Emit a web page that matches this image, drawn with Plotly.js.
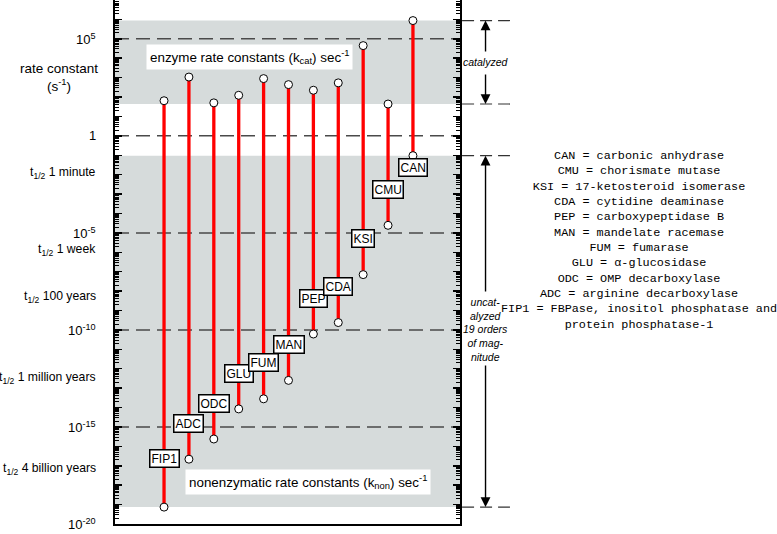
<!DOCTYPE html>
<html>
<head>
<meta charset="utf-8">
<script src="https://cdn.plot.ly/plotly-3.0.1.min.js"></script>
<style>
  body { margin: 0; background: #fff; }
  #plot { width: 777px; height: 534px; }
</style>
</head>
<body>
<div id="plot"></div>
<script>
// enzymes, left to right
const enzymes = ['FIP1', 'ADC', 'ODC', 'GLU', 'FUM', 'MAN', 'PEP', 'CDA', 'KSI', 'CMU', 'CAN'];
// log10 of rate constants (sec-1)
const kcatExp = [1.81, 3.03, 1.70, 2.09, 2.95, 2.64, 2.35, 2.73, 4.65, 1.64, 5.94];
const knonExp = [-19.13, -16.66, -15.62, -14.07, -13.55, -12.6, -10.21, -9.62, -7.15, -4.61, -1.02];

// left axis labels
const decadeExp = [5, 0, -5, -10, -15, -20];
const decadeText = ['10<sup>5</sup>', '1', '10<sup>-5</sup>', '10<sup>-10</sup>', '10<sup>-15</sup>', '10<sup>-20</sup>'];
const halfLifeText = ['1 minute', '1 week', '100 years', '1 million years', '4 billion years'];
const halfLifeExp = [-1.91, -5.88, -8.3, -12.47, -17.16];

const legendLines = [
    'CAN = carbonic anhydrase',
    'CMU = chorismate mutase',
    'KSI = 17-ketosteroid isomerase',
    'CDA = cytidine deaminase',
    'PEP = carboxypeptidase B',
    'MAN = mandelate racemase',
    'FUM = fumarase',
    'GLU = \u03b1-glucosidase',
    'ODC = OMP decarboxylase',
    'ADC = arginine decarboxylase',
    'FIP1 = FBPase, inositol phosphatase and',
    'protein phosphatase-1'
];

const sans = 'Liberation Sans, Arial, Helvetica, sans-serif';
const idx = enzymes.map((e, i) => i);
const p10 = v => Math.pow(10, v);

// stems
let stemX = [], stemY = [];
idx.forEach(i => {
    stemX.push(i, i, null);
    stemY.push(p10(knonExp[i]), p10(kcatExp[i]), null);
});

const stems = {
    x: stemX, y: stemY,
    mode: 'lines', type: 'scatter',
    line: { color: '#ff0000', width: 3.3 },
    hoverinfo: 'skip', showlegend: false
};
const ends = {
    x: idx.concat(idx),
    y: kcatExp.concat(knonExp).map(p10),
    mode: 'markers', type: 'scatter',
    marker: { color: '#ffffff', size: 8, line: { color: '#000', width: 1 } },
    hoverinfo: 'skip', showlegend: false
};

const catTop = Math.max(...kcatExp), catBot = Math.min(...kcatExp);
const nonTop = Math.max(...knonExp), nonBot = Math.min(...knonExp);

// shapes on a log axis take data values
const shapes = [];
// grey bands
[[catBot, catTop], [nonBot, nonTop]].forEach(b => {
    shapes.push({ type: 'rect', xref: 'paper', yref: 'y', x0: 0, x1: 1, y0: p10(b[0]), y1: p10(b[1]),
        fillcolor: '#d6dbdb', line: { width: 0 }, layer: 'below' });
});
// dashed decade lines
[5, 0, -5, -10, -15].forEach(d => {
    shapes.push({ type: 'line', xref: 'paper', yref: 'y', x0: 0, x1: 1, y0: p10(d), y1: p10(d),
        line: { color: '#4a4a4a', width: 1.5, dash: '14px,7px' }, layer: 'below' });
});
// dashes to the right of the frame
[catTop, catBot, nonTop, nonBot].forEach(d => {
    shapes.push({ type: 'line', xref: 'paper', yref: 'y', x0: 1.006, x1: 1.145, y0: p10(d), y1: p10(d),
        line: { color: '#333', width: 1.2, dash: '12px,6px' } });
});

const annotations = [];
// enzyme name boxes
enzymes.forEach((name, i) => {
    const shift = name === 'CAN' ? -0.6 : (name === 'FIP1' ? 2.5 : 1.85);
    annotations.push({
        x: i, y: knonExp[i] + shift, xref: 'x', yref: 'y', xanchor: 'center', text: name, showarrow: false,
        font: { family: sans, size: 12, color: '#000' },
        bgcolor: '#fff', bordercolor: '#000', borderwidth: 1.5, borderpad: 1
    });
});
// decade labels
decadeExp.forEach((d, i) => {
    annotations.push({ x: -0.05, y: d, xref: 'paper', yref: 'y', xanchor: 'right', text: decadeText[i],
        showarrow: false, font: { family: sans, size: 13, color: '#000' } });
});
halfLifeText.forEach((t, i) => {
    annotations.push({ x: -0.05, y: halfLifeExp[i], xref: 'paper', yref: 'y', xanchor: 'right',
        text: 't<sub>1/2</sub> ' + t, showarrow: false, font: { family: sans, size: 12.2, color: '#000' } });
});
annotations.push({ x: -0.162, y: 3.0, xref: 'paper', yref: 'y', xanchor: 'center',
    text: 'rate constant<br>(s<sup>-1</sup>)',
    showarrow: false, font: { family: sans, size: 13.5, color: '#000' } });

// band captions
annotations.push({ x: 3.45, y: 4.04, xref: 'x', yref: 'y', xanchor: 'center',
    text: 'enzyme rate constants (k<sub>cat</sub>) sec<sup>-1</sup>', showarrow: false,
    font: { family: sans, size: 13.4, color: '#000' }, bgcolor: '#fff', borderpad: 3 });
annotations.push({ x: 5.8, y: -17.86, xref: 'x', yref: 'y', xanchor: 'center',
    text: 'nonenzymatic rate constants (k<sub>non</sub>) sec<sup>-1</sup>', showarrow: false,
    font: { family: sans, size: 13.4, color: '#000' }, bgcolor: '#fff', borderpad: 3 });

// right side arrows
const ax = 1.074;
const arrow = (head, tail) => ({
    x: ax, y: head, xref: 'paper', yref: 'y', ax: 0, ay: tail, axref: 'pixel', ayref: 'y',
    text: '', showarrow: true, arrowhead: 2, arrowsize: 1.4, arrowwidth: 1.4, arrowcolor: '#000', standoff: 0
});
annotations.push(arrow(catTop, 4.27), arrow(catBot, 3.24), arrow(nonTop, -8.1), arrow(nonBot, -11.75));
annotations.push({ x: ax, y: 3.78, xref: 'paper', yref: 'y', xanchor: 'center', text: '<i>catalyzed</i>',
    showarrow: false, font: { family: sans, size: 10.5, color: '#000' } });
annotations.push({ x: ax, y: -10.0, xref: 'paper', yref: 'y', xanchor: 'center',
    text: '<i>uncat-<br>alyzed<br>19 orders<br>of mag-<br>nitude</i>', showarrow: false,
    font: { family: sans, size: 10.5, color: '#000' } });

// abbreviation key
annotations.push({ x: 1.52, y: 0.541, xref: 'paper', yref: 'paper', xanchor: 'center', yanchor: 'middle',
    text: legendLines.join('<br>'), showarrow: false, align: 'center',
    font: { family: 'Liberation Mono, Courier New, monospace', size: 11.8, color: '#000' } });

const layout = {
    width: 777, height: 534,
    margin: { l: 115, r: 317, t: 0, b: 10 },
    paper_bgcolor: '#fff', plot_bgcolor: '#fff',
    showlegend: false,
    xaxis: {
        range: [-1.97, 11.89], showline: true, mirror: true, linecolor: '#000', linewidth: 2,
        showgrid: false, zeroline: false, showticklabels: false, ticks: ''
    },
    yaxis: {
        type: 'log', range: [-20, 7], showline: true, mirror: 'ticks', linecolor: '#000', linewidth: 2,
        showgrid: false, zeroline: false, showticklabels: false,
        ticks: 'inside', ticklen: 7, tickwidth: 1.5, tickcolor: '#000', dtick: 1,
        minor: { ticks: 'inside', ticklen: 4, tickwidth: 1, tickcolor: '#000', showgrid: false }
    },
    shapes: shapes,
    annotations: annotations
};

Plotly.newPlot('plot', [stems, ends], layout, { staticPlot: true });
</script>
</body>
</html>
